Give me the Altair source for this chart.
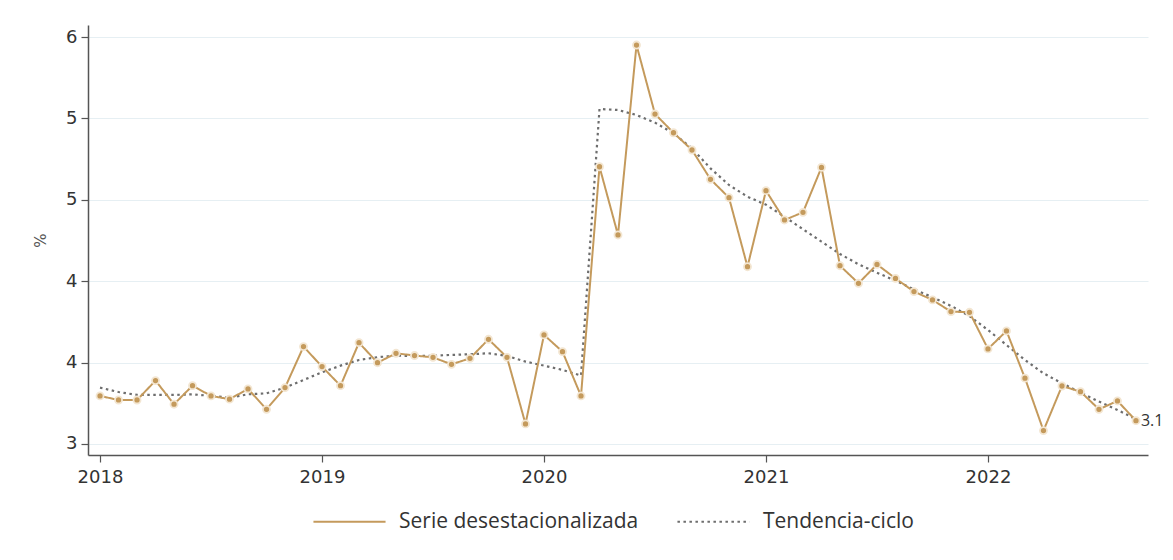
import altair as alt
import pandas as pd

series_names = ["Serie desestacionalizada", "Tendencia-ciclo"]

# Monthly values, Jan 2018 .. Sep 2022
seas = [
    3.295, 3.270, 3.270, 3.389, 3.244, 3.358, 3.295, 3.275, 3.338, 3.213, 3.346, 3.598,
    3.475, 3.358, 3.622, 3.499, 3.557, 3.543, 3.532, 3.489, 3.526, 3.643, 3.532, 3.123,
    3.670, 3.567, 3.295, 4.703, 4.284, 5.451, 5.027, 4.912, 4.806, 4.626, 4.513, 4.089,
    4.556, 4.376, 4.423, 4.699, 4.095, 3.987, 4.103, 4.017, 3.936, 3.885, 3.813, 3.809,
    3.584, 3.694, 3.404, 3.082, 3.356, 3.321, 3.213, 3.264, 3.143,
]
trend = [
    3.346, 3.319, 3.301, 3.301, 3.301, 3.305, 3.295, 3.284, 3.305, 3.311, 3.346, 3.393,
    3.440, 3.481, 3.516, 3.533, 3.542, 3.541, 3.542, 3.547, 3.551, 3.557, 3.541, 3.506,
    3.481, 3.455, 3.420, 5.058, 5.052, 5.021, 4.974, 4.908, 4.816, 4.693, 4.591, 4.519,
    4.470, 4.396, 4.319, 4.243, 4.167, 4.104, 4.052, 4.003, 3.950, 3.901, 3.848, 3.786,
    3.700, 3.608, 3.516, 3.434, 3.373, 3.315, 3.260, 3.209, 3.152,
]

x_tick_values = [0, 12, 24, 36, 48]
x_tick_labels = ["2018", "2019", "2020", "2021", "2022"]
y_tick_values = [3, 3.5, 4, 4.5, 5, 5.5]
y_tick_labels = ["3", "4", "4", "5", "5", "6"]

n = len(seas)
df = pd.DataFrame({
    "m": list(range(n)) * 2,
    "value": seas + trend,
    "series": [series_names[0]] * n + [series_names[1]] * n,
})


def label_expr(values, labels):
    expr = "''"
    for v, l in reversed(list(zip(values, labels))):
        expr = f"datum.value == {v} ? '{l}' : ({expr})"
    return expr


AXIS_FONT = "DejaVu Sans"
LEG_FONT = "Open Sans"
TAN = "#C49A5C"
GREY = "#6E6E6E"

x_enc = alt.X(
    "m:Q",
    scale=alt.Scale(domain=[-0.65, 56.65], nice=False, zero=False),
    axis=alt.Axis(
        values=x_tick_values,
        labelExpr=label_expr(x_tick_values, x_tick_labels),
        title=None,
        grid=False,
        domainColor="#555555",
        domainWidth=1.5,
        tickColor="#555555",
        tickSize=7,
        tickWidth=1.2,
        labelPadding=6,
        labelFont=AXIS_FONT,
        labelFontSize=18,
        labelColor="#333333",
    ),
)
y_enc = alt.Y(
    "value:Q",
    scale=alt.Scale(domain=[2.932, 5.574], nice=False, zero=False),
    axis=alt.Axis(
        values=y_tick_values,
        labelExpr=label_expr(y_tick_values, y_tick_labels),
        title="%",
        titleFont=AXIS_FONT,
        titleFontSize=15,
        titleFontWeight="normal",
        titleColor="#555555",
        titleX=-40,
        titleY=215,
        grid=True,
        gridColor="#E6EFF3",
        gridWidth=1.2,
        domainColor="#555555",
        domainWidth=1.5,
        tickColor="#555555",
        tickSize=7,
        tickWidth=1.2,
        labelPadding=4,
        labelFont=AXIS_FONT,
        labelFontSize=18,
        labelColor="#333333",
    ),
)
legend_kwargs = dict(
    title=None,
    orient="none",
    direction="horizontal",
    legendX=224,
    legendY=459,
    symbolType="stroke",
    symbolSize=5200,
    symbolStrokeWidth=2,
    labelFont=LEG_FONT,
    labelFontSize=21,
    labelColor="#333333",
    labelOffset=12,
    columnPadding=34,
    labelLimit=400,
)
color_enc = alt.Color(
    "series:N",
    scale=alt.Scale(domain=series_names, range=[TAN, GREY]),
    legend=alt.Legend(**legend_kwargs),
)
dash_enc = alt.StrokeDash(
    "series:N",
    scale=alt.Scale(domain=series_names, range=[[1, 0], [2.5, 3.5]]),
    legend=alt.Legend(**legend_kwargs),
)

base = alt.Chart(df)

seas_line = base.transform_filter(
    alt.datum.series == series_names[0]
).mark_line(strokeWidth=2).encode(x=x_enc, y=y_enc, color=color_enc, strokeDash=dash_enc)

trend_line = base.transform_filter(
    alt.datum.series == series_names[1]
).mark_line(strokeWidth=2.2).encode(x=x_enc, y=y_enc, color=color_enc, strokeDash=dash_enc)

points = base.transform_filter(
    alt.datum.series == series_names[0]
).mark_point(
    shape="circle", filled=True, fill=TAN, stroke="#F3E6D2", strokeWidth=1.8,
    size=50, opacity=1,
).encode(x=x_enc, y=y_enc)

last_label = base.transform_filter(
    alt.datum.series == series_names[0]
).transform_filter(
    alt.datum.m == n - 1
).mark_text(
    align="left", baseline="middle", dx=5, font=LEG_FONT, fontSize=16, color="#333333"
).encode(x=x_enc, y=y_enc, text=alt.Text("value:Q", format=".1f"))

chart = alt.layer(trend_line, seas_line, points, last_label).properties(
    width=1060,
    height=430,
    autosize=alt.AutoSizeParams(type="none"),
    padding={"left": 80, "top": 17, "right": 17, "bottom": 97},
).configure_view(stroke="transparent")

chart.save("out.html", embed_options={"renderer": "svg", "actions": False})
